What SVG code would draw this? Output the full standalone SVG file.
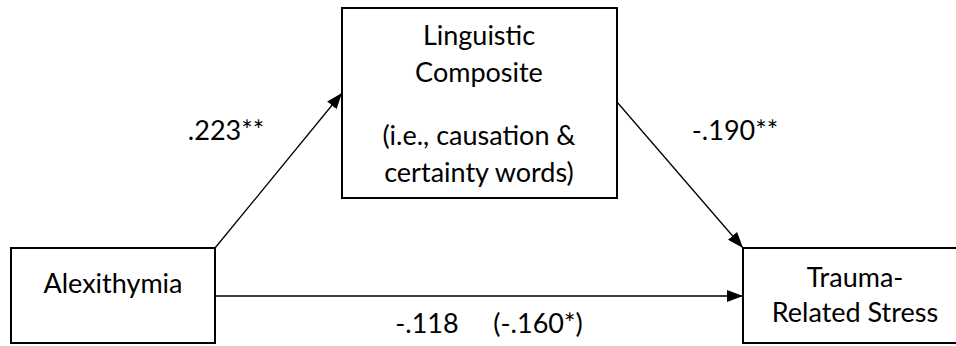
<svg xmlns="http://www.w3.org/2000/svg" width="956" height="346" viewBox="0 0 956 346">
<style>
.box{fill:#fff;stroke:#000;stroke-width:2}
.t{font-family:Lato,"Liberation Sans",sans-serif;font-size:27px;fill:#000;text-anchor:middle}
.c{stroke:#000;stroke-width:1.3;fill:none;marker-end:url(#ah)}
</style>
<defs>
<marker id="ah" viewBox="0 0 16 12" refX="16" refY="6" markerWidth="16" markerHeight="12" markerUnits="userSpaceOnUse" orient="auto">
<path d="M0,0 L16,6 L0,12 z" fill="#000"/>
</marker>
</defs>
<g id="connectors">
<line class="c" x1="215" y1="248" x2="342" y2="93"/>
<line class="c" x1="617" y1="102" x2="743" y2="248"/>
<line class="c" x1="215" y1="296" x2="743" y2="296"/>
<text class="t" x="226" y="140">.223**</text>
<text class="t" x="735" y="140">-.190**</text>
<text class="t" x="427" y="333">-.118</text>
<text class="t" x="538" y="333">(-.160*)</text>
</g>
<g id="alexithymia">
<rect class="box" x="11" y="248" width="204" height="95"/>
<text class="t" x="113" y="293">Alexithymia</text>
</g>
<g id="linguistic">
<rect class="box" x="342" y="8" width="275" height="190"/>
<text class="t" x="479" y="45">Linguistic</text>
<text class="t" x="479" y="82">Composite</text>
<text class="t" x="479" y="145">(i.e., causation &amp;</text>
<text class="t" x="479" y="182">certainty words)</text>
</g>
<g id="trauma">
<rect class="box" x="743" y="248" width="216" height="95"/>
<text class="t" x="855" y="287">Trauma-</text>
<text class="t" x="855" y="322">Related Stress</text>
</g>
</svg>
